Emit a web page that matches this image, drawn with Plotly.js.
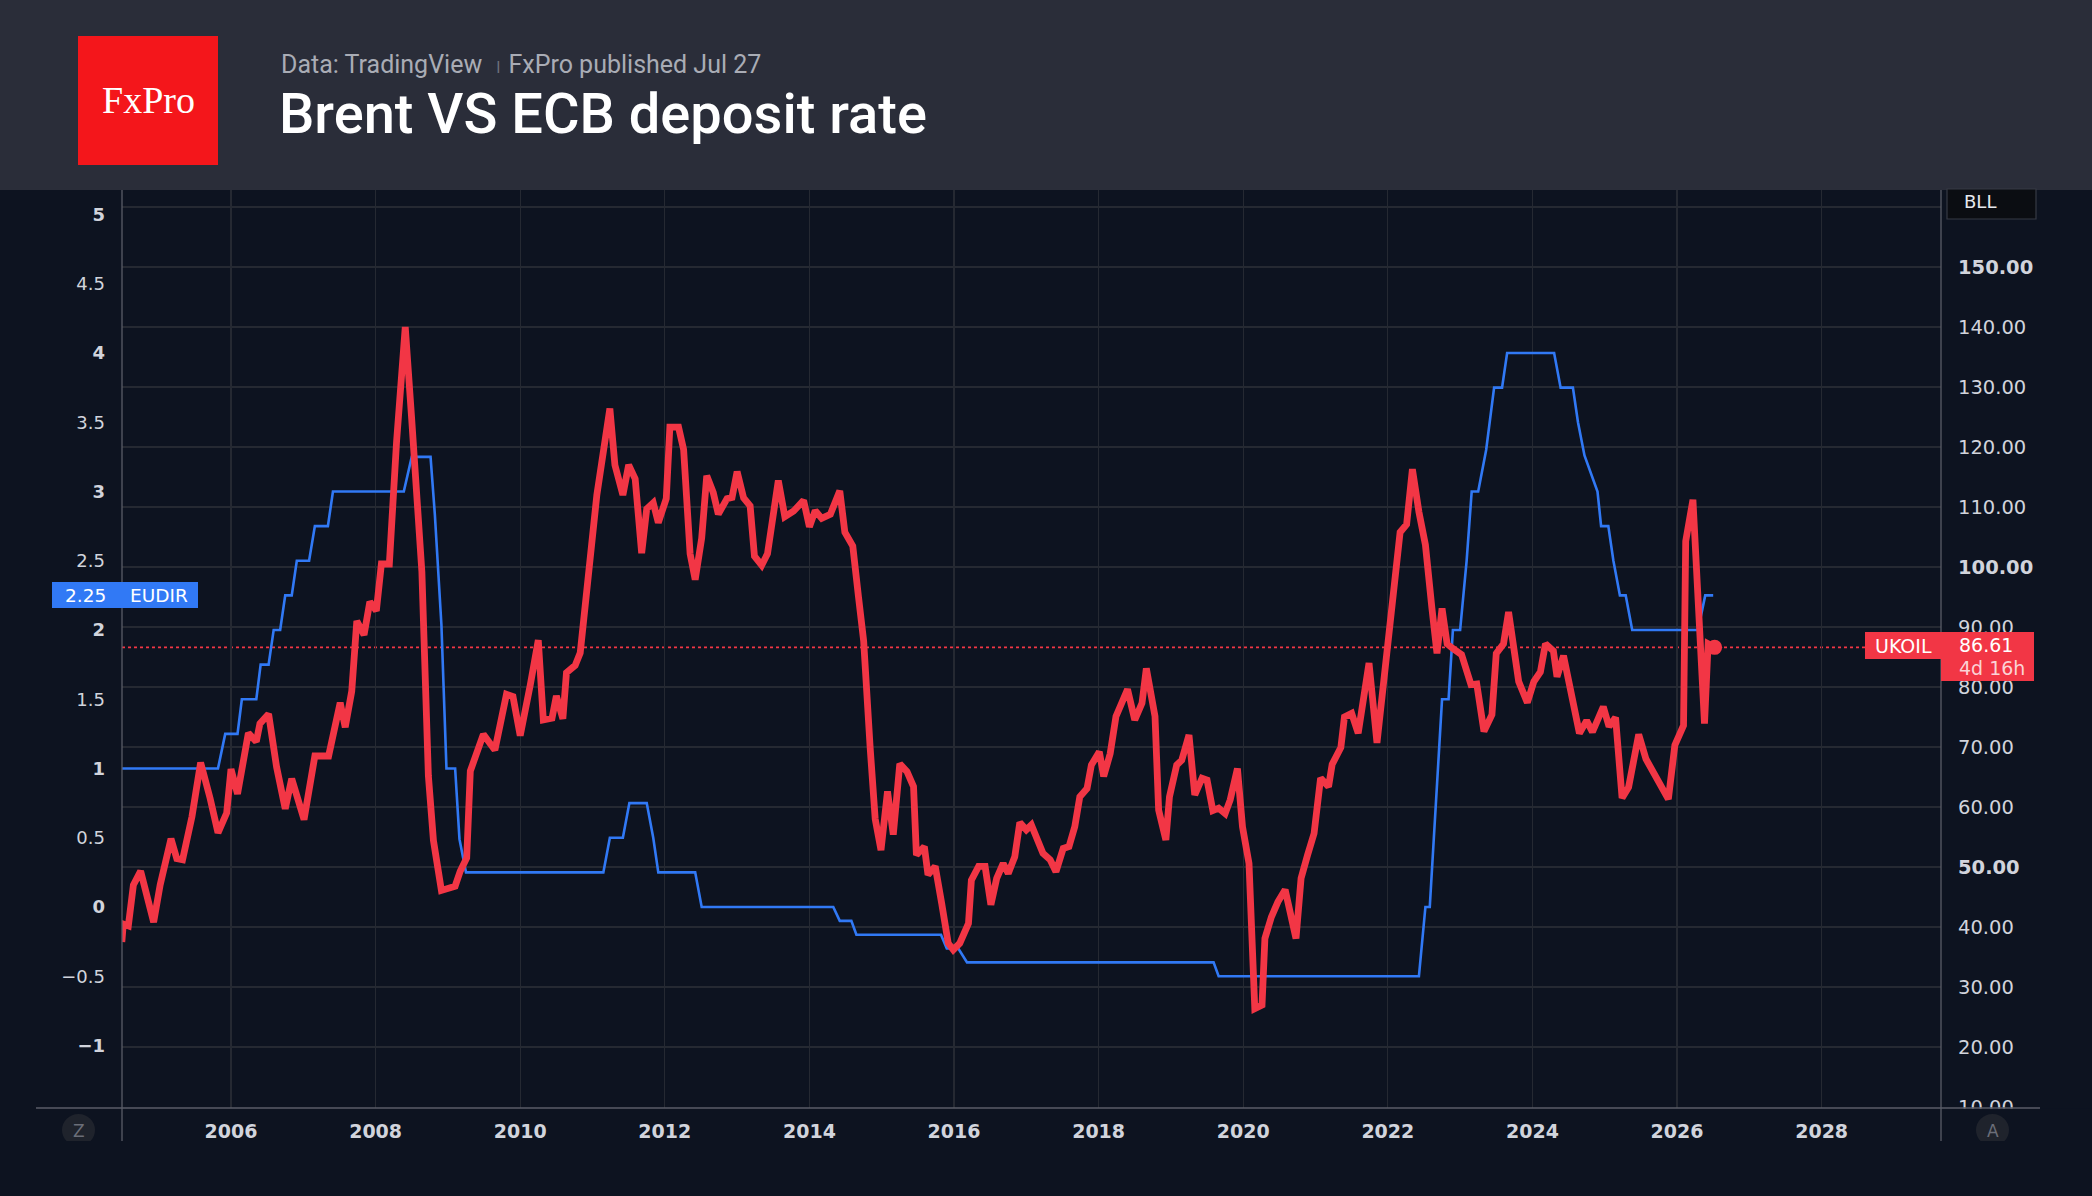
<!DOCTYPE html>
<html>
<head>
<meta charset="utf-8">
<script src="https://cdn.plot.ly/plotly-3.0.1.min.js"></script>
<style>
html,body{margin:0;padding:0;background:#0d1320;}
#chart{width:2092px;height:1196px;}
</style>
</head>
<body>
<div id="chart"></div>
<script>
// ---------------- DATA ----------------
// Brent (UKOIL), USD, decimal year
const brentYears = [2004.49,2004.51,2004.58,2004.65,2004.75,2004.93,2005.02,2005.17,2005.25,2005.33,2005.46,2005.58,2005.71,2005.82,2005.94,
2006.0,2006.09,2006.24,2006.35,2006.4,2006.52,2006.63,2006.75,2006.84,2007.01,2007.16,2007.35,2007.51,2007.58,2007.67,2007.74,2007.84,2007.92,
2008.01,2008.08,2008.19,2008.29,2008.41,2008.5,2008.64,2008.73,2008.8,2008.91,2009.1,2009.17,2009.26,2009.31,2009.49,2009.65,2009.81,2009.9,
2010.0,2010.14,2010.25,2010.32,2010.44,2010.5,2010.59,2010.64,2010.76,2010.83,2010.94,2011.06,2011.24,2011.31,2011.42,2011.5,2011.59,2011.68,
2011.75,2011.84,2011.91,2012.02,2012.07,2012.19,2012.26,2012.35,2012.42,2012.51,2012.58,2012.67,2012.74,2012.86,2012.93,2013.0,2013.09,2013.18,
2013.24,2013.34,2013.42,2013.57,2013.66,2013.78,2013.92,2014.0,2014.08,2014.17,2014.29,2014.42,2014.49,2014.6,2014.68,2014.75,2014.84,2014.91,
2014.99,2015.08,2015.16,2015.25,2015.35,2015.44,2015.48,2015.59,2015.64,2015.74,2015.83,2015.92,2015.99,2016.08,2016.2,2016.24,2016.34,2016.43,
2016.51,2016.59,2016.68,2016.75,2016.84,2016.91,2017.0,2017.07,2017.23,2017.33,2017.41,2017.51,2017.59,2017.67,2017.74,2017.84,2017.9,2018.01,
2018.07,2018.16,2018.24,2018.32,2018.4,2018.5,2018.6,2018.66,2018.78,2018.83,2018.93,2018.98,2019.08,2019.15,2019.25,2019.33,2019.43,2019.5,
2019.58,2019.66,2019.75,2019.82,2019.92,2019.99,2020.08,2020.16,2020.26,2020.3,2020.39,2020.48,2020.58,2020.73,2020.8,2020.89,2020.98,2021.07,
2021.18,2021.23,2021.35,2021.4,2021.5,2021.59,2021.74,2021.85,2022.0,2022.11,2022.17,2022.26,2022.34,2022.43,2022.52,2022.61,2022.68,2022.75,
2022.82,2022.9,2023.02,2023.15,2023.23,2023.33,2023.44,2023.5,2023.6,2023.67,2023.81,2023.93,2024.02,2024.11,2024.18,2024.29,2024.34,2024.43,
2024.54,2024.65,2024.75,2024.83,2024.98,2025.06,2025.15,2025.24,2025.33,2025.47,2025.57,2025.72,2025.88,2025.97,2026.09,2026.12,2026.22,2026.38,
2026.43,2026.52];
const brentValues = [37.5,40.5,40.2,47,49.3,40.8,47,54.7,51.4,51.2,58.4,67.4,61.5,55.7,59,
66.3,62.2,72.3,70.9,73.9,75.5,66.7,59.7,64.7,57.9,68.5,68.5,77.4,73.3,79.3,91,88.7,94.2,
92.7,100.5,100.5,120.9,140,124.5,99.2,65.2,54.4,46.1,46.8,49.3,51.5,66,72.1,69.5,78.8,78.4,
71.9,80.4,87.8,74.5,74.8,78.5,74.7,82.4,83.6,85.7,97.9,112,126.4,117,112,117,114.7,102.3,
109.7,110.7,107.4,111.4,123.3,123.3,119.6,102.2,97.9,104.8,115.2,112.4,108.8,111.4,111.6,115.9,111.5,110.2,
101.8,100.3,102.2,114.4,108.4,109.3,111.1,106.7,109.4,108.1,108.8,112.7,105.8,103.5,94.9,87.7,69.9,58,
52.8,62.6,55.4,67.2,65.9,63.4,52,53.4,48.7,50.1,43.9,37.3,36.2,37.3,40.6,47.8,50.1,50.1,
43.7,48.1,50.6,48.9,51.7,57.4,56.2,57,52.3,51.2,49.2,53.1,53.4,56.7,61.7,63.1,67,69.2,
65.1,68.9,75.1,77.3,79.6,74.5,77.3,83.1,75.1,59.5,54.5,61.7,67,67.8,72,62,64.8,64.5,
59.4,59.8,58.9,61.2,66.4,56.7,50.6,26.4,27,38.1,41.7,44.2,46.2,38.1,48.1,52,55.6,64.8,
63.4,67.1,69.9,75,75.6,72.3,84,70.7,88.4,99.4,105.8,107.1,116.3,109.2,103.7,93.1,85.6,93.1,
87.2,86.4,85.4,80.4,80.5,72.6,75.4,85.6,87.2,92.5,80.9,77.4,80.9,82.5,87.2,86,81.7,85.2,
78.9,72.3,74.4,72.5,76.7,73.4,74.9,61.5,63.3,72.1,68,65,61.3,70.3,73.6,104.3,111.2,73.9,
87.2,86.61];
const brentLast = 86.61;

// ECB deposit rate (EUDIR), %, decimal year
const ecbYears = [2004.49,2005.82,2005.92,2006.09,2006.15,2006.35,2006.41,2006.52,2006.59,2006.68,2006.75,2006.84,2006.91,2007.08,2007.16,
2007.34,2007.41,2008.39,2008.5,2008.76,2008.82,2008.91,2008.98,2009.1,2009.16,2009.25,2011.15,2011.24,2011.42,2011.51,2011.75,2011.84,
2011.91,2012.42,2012.51,2014.33,2014.42,2014.58,2014.65,2015.82,2015.9,2016.06,2016.18,2019.59,2019.66,2022.43,2022.52,2022.58,2022.75,
2022.84,2022.9,2023.0,2023.09,2023.16,2023.25,2023.36,2023.47,2023.58,2023.65,2024.3,2024.39,2024.56,2024.63,2024.72,2024.9,2024.95,
2025.05,2025.12,2025.21,2025.29,2025.38,2026.29,2026.39,2026.5];
const ecbValues = [1.0,1.0,1.25,1.25,1.5,1.5,1.75,1.75,2.0,2.0,2.25,2.25,2.5,2.5,2.75,
2.75,3.0,3.0,3.25,3.25,2.83,2.04,1.0,1.0,0.49,0.25,0.25,0.5,0.5,0.75,0.75,0.5,
0.25,0.25,0.0,0.0,-0.1,-0.1,-0.2,-0.2,-0.3,-0.3,-0.4,-0.4,-0.5,-0.5,0.0,0.0,1.5,
1.5,2.0,2.0,2.5,3.0,3.0,3.3,3.75,3.75,4.0,4.0,3.75,3.75,3.5,3.26,3.0,2.75,
2.75,2.5,2.25,2.25,2.0,2.0,2.25,2.25];
const ecbLast = 2.25;

// tick labels
const yearTicks = [2006,2008,2010,2012,2014,2016,2018,2020,2022,2024,2026,2028];
const rateTicks = [-1,-0.5,0,0.5,1,1.5,2,2.5,3,3.5,4,4.5,5];
const rateTickText = ["<b>−1</b>","−0.5","<b>0</b>","0.5","<b>1</b>","1.5","<b>2</b>","2.5","<b>3</b>","3.5","<b>4</b>","4.5","<b>5</b>"];
const oilTicks = [10,20,30,40,50,60,70,80,90,100,110,120,130,140,150,160];
const oilTickText = ["10.00","20.00","30.00","40.00","<b>50.00</b>","60.00","70.00","80.00","90.00","<b>100.00</b>","110.00","120.00","130.00","140.00","<b>150.00</b>",""];

// ---------------- LAYOUT HELPERS ----------------
const W=2092, H=1196, L=122, R=1941, T=190, B=1108;
const px = X => (X-L)/(R-L);
const py = Y => (B-Y)/(B-T);

const BG='#0d1320', HEAD='#2a2d39', GRID='#252932', AXIS='#5a5d67', TXT='#d1d4dc';
const RED='#f23645', BLUE='#3179f5';
const FONT='"DejaVu Sans", Verdana, sans-serif';

const traces = [
  {x: ecbYears, y: ecbValues, type:'scatter', mode:'lines', yaxis:'y',
   line:{color:BLUE, width:2.6, shape:'linear'}, hoverinfo:'skip', showlegend:false},
  {x: brentYears, y: brentValues, type:'scatter', mode:'lines', yaxis:'y2',
   line:{color:RED, width:6.8, shape:'linear'}, hoverinfo:'skip', showlegend:false},
  {x: [brentYears[brentYears.length-1]], y:[brentLast], type:'scatter', mode:'markers', yaxis:'y2',
   marker:{color:RED, size:15}, hoverinfo:'skip', showlegend:false}
];

function rect(x0,y0,x1,y1,fill,line,layer){
  return {type:'rect', xref:'paper', yref:'paper', x0:px(x0), x1:px(x1), y0:py(y1), y1:py(y0),
    fillcolor:fill, line:line||{width:0}, layer:layer||'above'};
}
function hline(x0,x1,Y,color,w){
  return {type:'line', xref:'paper', yref:'paper', x0:px(x0), x1:px(x1), y0:py(Y), y1:py(Y), line:{color:color,width:w||1}, layer:'above'};
}
function vline(X,y0,y1,color,w){
  return {type:'line', xref:'paper', yref:'paper', x0:px(X), x1:px(X), y0:py(y0), y1:py(y1), line:{color:color,width:w||1}, layer:'above'};
}
function txt(X,Y,text,size,color,xanchor,family,weight){
  const f = {size:size, color:color, family:family||FONT};
  if (weight) f.weight = weight;
  return {xref:'paper', yref:'paper', x:px(X), y:py(Y), text:text, showarrow:false,
    xanchor:xanchor||'center', yanchor:'middle', font:f};
}

const shapes = [
  // header band
  rect(0,0,W,T,HEAD,null,'below'),
  // logo
  rect(78,36,218,165,'#f4161b',null,'above'),
  // dotted last-price line
  {type:'line', xref:'paper', yref:'y2', x0:0, x1:px(1865), y0:brentLast, y1:brentLast,
   line:{color:RED, width:1.6, dash:'dot'}, layer:'below'},
  // hide lower half of the bottom right label
  rect(1943,1108.5,2092,1125,BG,null,'above'),
  // axis lines
  hline(36,2040,B,AXIS,1.3),
  vline(L,T,1141,AXIS,1.3),
  vline(R,T,1141,AXIS,1.3),
  // bottom badges
  {type:'circle', xref:'paper', yref:'paper', x0:px(62), x1:px(95), y0:py(1146), y1:py(1114), fillcolor:'#1f232c', line:{width:0}, layer:'above'},
  {type:'circle', xref:'paper', yref:'paper', x0:px(1976), x1:px(2009), y0:py(1146), y1:py(1114), fillcolor:'#1f232c', line:{width:0}, layer:'above'},
  rect(0,1141,W,H,BG,null,'above'),
  // BLL box
  rect(1947,189,2036,219,'#0b0d12',{color:'#363a45',width:1.2},'above'),
  // EUDIR label box
  rect(52,582,198,608,BLUE,null,'above'),
  // UKOIL label boxes
  rect(1865,632,1941,659,RED,null,'above'),
  rect(1941,632,2034,681,RED,null,'above')
];

const annotations = [
  txt(148,100,'FxPro',38,'#ffffff','center','"Liberation Serif", "DejaVu Serif", serif'),
  txt(279,64,'Data: TradingView <span style="color:#6f727c;font-size:16px">  ǀ  </span>FxPro published Jul 27',25,'#a9acb5','left','Roboto, sans-serif'),
  txt(277,114,'Brent VS ECB deposit rate',56,'#ffffff','left','Roboto, sans-serif',500),
  txt(1980,201,'BLL',18,'#e6e8ee','center'),
  txt(85,595.5,'2.25',18.5,'#ffffff','center'),
  txt(159,595.5,'EUDIR',18.5,'#ffffff','center'),
  txt(1903,646,'UKOIL',19,'#ffffff','center'),
  txt(1957,645,'86.61',19,'#ffffff','left'),
  txt(1957,668,'4d 16h',19,'#fbd3d6','left'),
  txt(78.5,1131,'Z',17,'#6b6e78','center'),
  txt(1992.5,1131,'A',17,'#6b6e78','center')
];

const layout = {
  width:W, height:H,
  paper_bgcolor:BG, plot_bgcolor:BG,
  margin:{l:L, r:W-R, t:T, b:H-B, pad:0},
  showlegend:false,
  xaxis:{
    range:[2004.4924,2029.651], tickmode:'array', tickvals:yearTicks,
    ticktext:yearTicks.map(y=>'<b>'+y+'</b>'),
    showgrid:true, gridcolor:GRID, gridwidth:1.2, zeroline:false, showline:false,
    ticks:'', ticklabelstandoff:10, tickfont:{family:FONT, size:19, color:TXT}, fixedrange:true
  },
  yaxis:{
    range:[-1.4513,5.177], tickmode:'array', tickvals:rateTicks, ticktext:rateTickText,
    showgrid:false, zeroline:false, showline:false, side:'left',
    ticks:'', ticklabelstandoff:16, tickfont:{family:FONT, size:18, color:TXT}
  },
  yaxis2:{
    range:[9.833,162.833], tickmode:'array', tickvals:oilTicks, ticktext:oilTickText,
    overlaying:'y', side:'right', showgrid:true, gridcolor:GRID, gridwidth:1.2,
    zeroline:false, showline:false, ticks:'', ticklabelstandoff:16,
    tickfont:{family:FONT, size:19.5, color:TXT}
  },
  shapes:shapes,
  annotations:annotations
};

Plotly.newPlot('chart', traces, layout, {staticPlot:true, displayModeBar:false});
</script>
</body>
</html>
